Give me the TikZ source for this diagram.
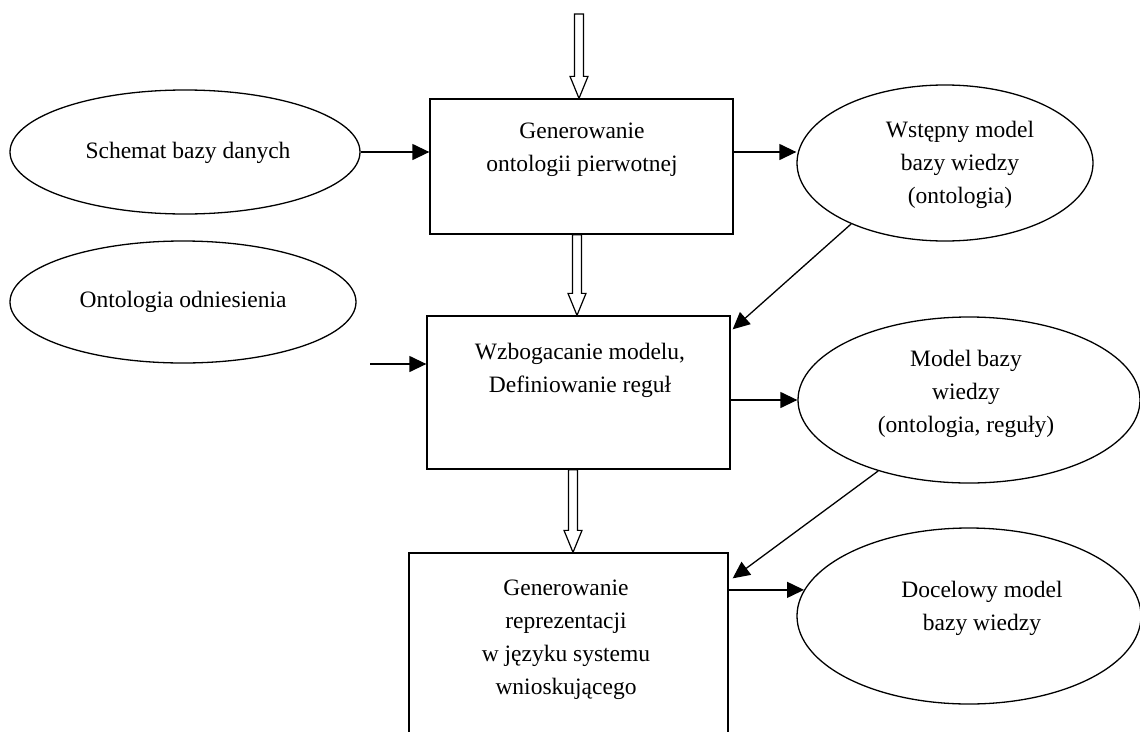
\documentclass[tikz,border=0pt]{standalone}
\usepackage{fontspec}
\setmainfont{Liberation Serif}
\usetikzlibrary{shapes.geometric,arrows.meta,calc}

% hollow block arrow from #1 straight down to the level of #2
\newcommand\blockarrow[2]{%
  \draw[blk] let \p1=(#1), \p2=(#2) in
    (\x1-4.5pt,\y1) -- (\x1-4.5pt,\y2+22pt) -- (\x1-9pt,\y2+22pt) -- (\x1,\y2)
    -- (\x1+9pt,\y2+22pt) -- (\x1+4.5pt,\y2+22pt) -- (\x1+4.5pt,\y1) -- cycle;}

\begin{document}
\begin{tikzpicture}[x=1pt,y=-1pt,
  every node/.style={font=\fontsize{23.5}{33}\selectfont},
  ln/.style={line width=1.3pt},
  oval/.style={ellipse, draw, ln, inner sep=0pt},
  boxnode/.style={rectangle, draw, ln, inner sep=0pt},
  lbl/.style={align=center, inner sep=0pt},
  arr/.style={ln, -{Triangle[length=17pt,width=16pt]}},
  blk/.style={line width=1.2pt, fill=white, line join=miter}]
\clip (0,0) rectangle (1140,731);
\fill[white] (0,0) rectangle (1140,731);

% process boxes
\node[boxnode, minimum width=303pt, minimum height=135pt] (b1) at (581.5,166.5) {};
\node[boxnode, minimum width=303pt, minimum height=153pt] (b2) at (578.5,392.5) {};
\node[boxnode, minimum width=319pt, minimum height=200pt] (b3) at (568.5,653) {};

\node[lbl] (t1) at (582,150) {Generowanie\\ontologii pierwotnej};
\node[lbl] (t2) at (580,370) {Wzbogacanie modelu,\\Definiowanie reguł};
\node[lbl] (t3) at (566,640) {Generowanie\\reprezentacji\\w języku systemu\\wnioskującego};

% inputs and products
\node[oval, minimum width=350pt, minimum height=124pt] (e1) at (185,152) {};
\node[oval, minimum width=346pt, minimum height=122pt] (e3) at (183,302) {};
\node[oval, minimum width=296pt, minimum height=156pt] (e2) at (945,163) {};
\node[oval, minimum width=342pt, minimum height=166pt] (e4) at (969,400) {};
\node[oval, minimum width=344pt, minimum height=176pt] (e5) at (969,616) {};

\node[lbl] (s1) at (188,153) {Schemat bazy danych};
\node[lbl] (s3) at (183,302) {Ontologia odniesienia};
\node[lbl] (s2) at (960,165) {Wstępny model\\bazy wiedzy\\(ontologia)};
\node[lbl] (s4) at (966,394) {Model bazy\\wiedzy\\(ontologia, reguły)};
\node[lbl] (s5) at (982,608) {Docelowy model\\bazy wiedzy};

% flow arrows
\coordinate (c3) at (370,364);
\draw[arr] (e1.east) -- (b1.west |- e1.east);
\draw[arr] (c3) -- (b2.west |- c3);
\draw[arr] (b1.east |- e1.east) -- (e2.west |- e1.east);
\draw[arr] (b2.east |- e4.west) -- (e4.west);
\draw[arr] (b3.east |- e5.171) -- (e5.171);
\draw[arr] (e2.213.7) -- ($(b2.north east)+(2,14)$);
\draw[arr] (e4.218) -- ($(b3.north east)+(4,26)$);

% hollow block arrows between the stages
\coordinate (src) at (579,14);
\blockarrow{src}{b1.north}
\blockarrow{$(b1.south)+(-4.5,0)$}{b2.north}
\blockarrow{$(b2.south)+(-5.5,0)$}{b3.north}
\end{tikzpicture}
\end{document}
